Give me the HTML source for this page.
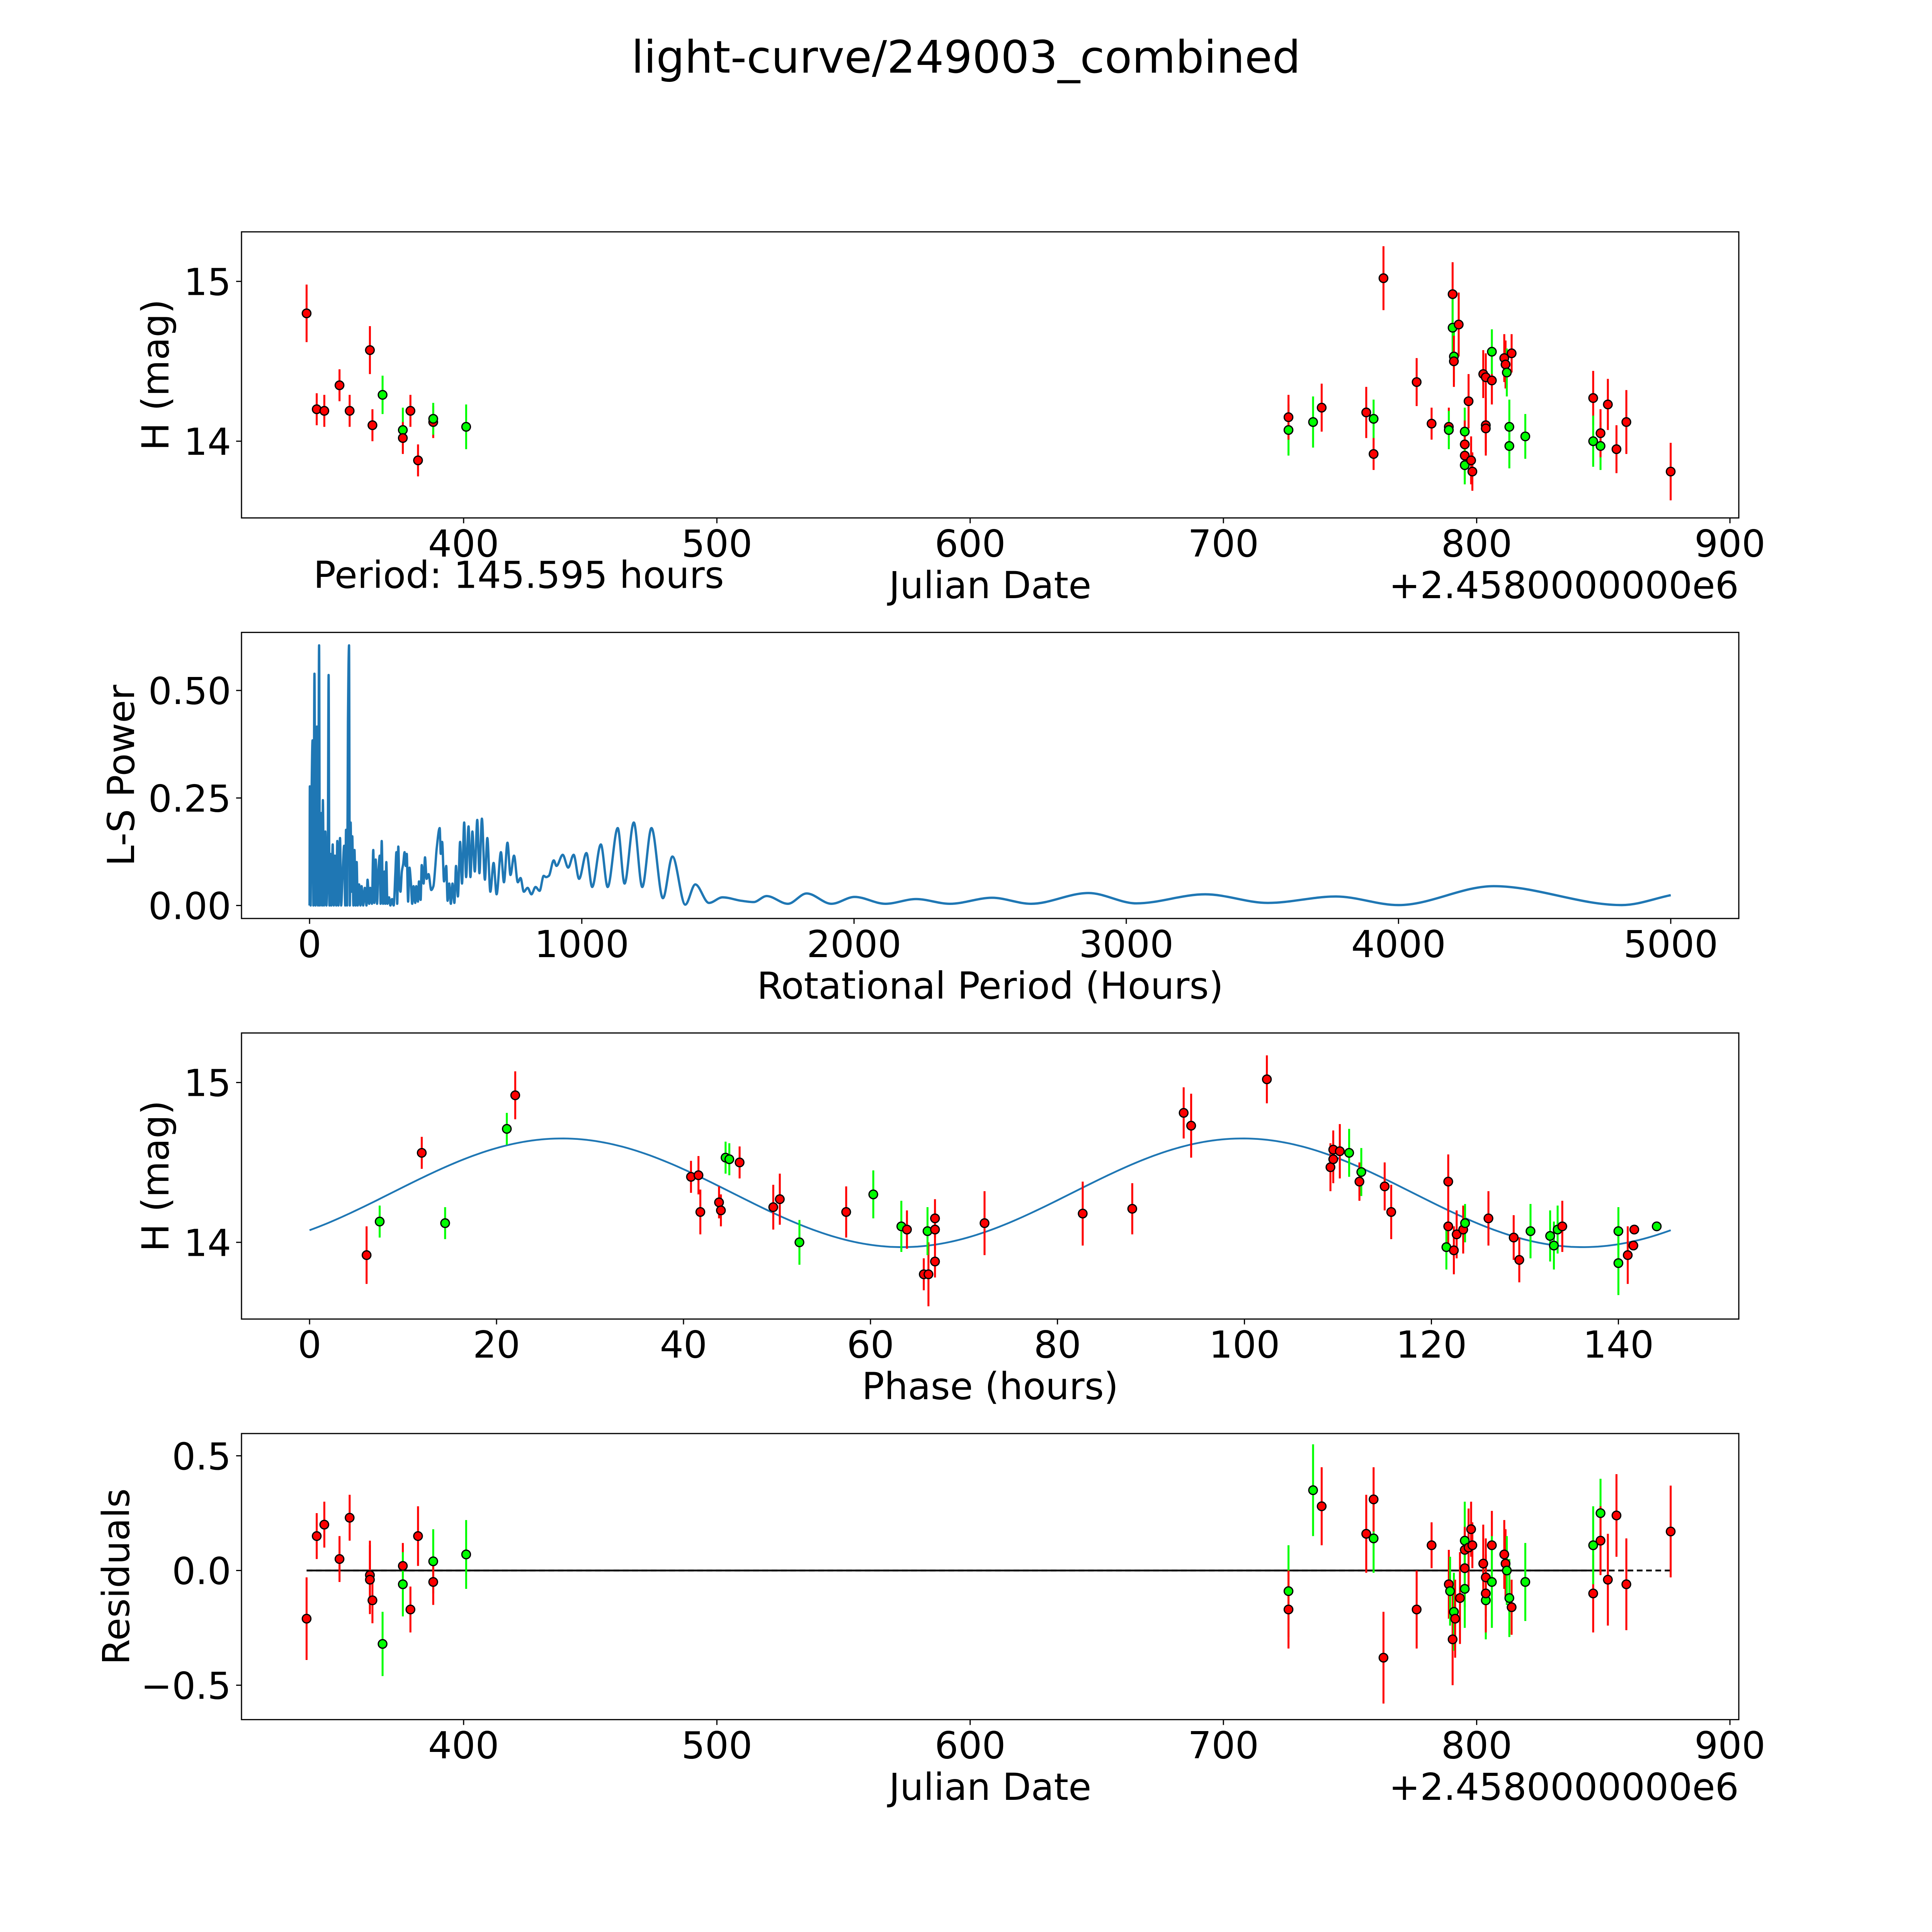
<!DOCTYPE html>
<html><head><meta charset="utf-8"><style>
html,body{margin:0;padding:0;background:#fff;overflow:hidden;width:100%;height:100%;}
svg{display:block;position:absolute;left:0;top:0;width:100vw;height:100vh;font-family:"DejaVu Sans","Liberation Sans",sans-serif;}
</style></head><body>
<svg id="fig" xmlns="http://www.w3.org/2000/svg" viewBox="0 0 5400 5400" preserveAspectRatio="none">
<rect x="0" y="0" width="5400" height="5400" fill="#fff"/>
<text x="2700" y="203" font-size="125" text-anchor="middle">light-curve/249003_combined</text>
</svg>
<script>
// ---------- data: light curve ----------
const lcDate=[338,342,345,351,355,363,364,368,376,376,379,382,388,388,401,
725.7,725.7,735.4,738.8,756.4,759.3,759.3,763.2,776.3,782.2,789.0,789.0,790.5,790.5,791.0,791.0,792.9,795.3,795.3,795.3,795.3,796.8,797.8,798.3,802.6,803.6,803.6,803.6,806.0,806.0,810.9,811.4,811.9,813.8,812.9,812.9,819.2,846.0,846.0,848.9,848.9,851.8,855.2,859.1,876.6];
const lcMag=[14.80,14.20,14.19,14.35,14.19,14.57,14.10,14.29,14.07,14.02,14.19,13.88,14.12,14.14,14.09,
14.07,14.15,14.12,14.21,14.18,14.14,13.92,15.02,14.37,14.11,14.09,14.07,14.92,14.71,14.53,14.50,14.73,14.06,13.98,13.91,13.85,14.25,13.88,13.81,14.42,14.40,14.10,14.08,14.38,14.56,14.52,14.48,14.43,14.55,14.09,13.97,14.03,14.27,14.00,13.97,14.05,14.23,13.95,14.12,13.81];
const lcErr=[0.18,0.1,0.1,0.1,0.1,0.15,0.1,0.12,0.14,0.1,0.1,0.1,0.1,0.1,0.14,
0.16,0.14,0.16,0.15,0.16,0.12,0.1,0.2,0.15,0.1,0.12,0.12,0.2,0.2,0.16,0.16,0.2,0.15,0.15,0.15,0.12,0.17,0.15,0.12,0.15,0.15,0.17,0.17,0.15,0.14,0.15,0.15,0.15,0.12,0.17,0.14,0.14,0.17,0.16,0.15,0.15,0.16,0.15,0.2,0.18];
const lcColor=['r','r','r','r','r','r','r','g','g','r','r','r','r','g','g',
'g','r','g','r','r','g','r','r','r','r','r','g','r','g','g','r','r','g','r','r','g','r','r','r','r','r','r','r','r','g','r','r','g','r','g','g','g','r','g','g','r','r','r','r','r'];
// ---------- data: periodogram ----------
const lsPeriod=[0,1,4,7,11,14,18,22,27,31,35,38,42,46,49,53,58,62,67,70,73,77,80,85,89,93,98,102,106,112,116,122,127,131,134,138,141,145,148,151,154,157,161,165,169,173,177,182,187,191,197,203,209,213,219,223,229,234,238,243,248,253,258,261,265,270,275,278,282,286,292,297,303,309,315,319,322,326,330,334,339,344,349,353,357,362,367,372,377,382,388,392,398,402,408,412,419,424,430,437,447,455,
462,467,478,482,487,494,502,507,513,519,525,532,538,545,553,560,568,575,584,591,598,607,616,624,633,644,653,664,676,687,703,714,727,738,751,765,775,787,801,815,830,845,860,869,879,897,907,930,950,970,990,1017,1038,1070,1095,1132,1157,1191,1222,1256,1298,1333,1380,1417,1467,1517,1586,1631,1679,1757,1826,1917,2002,2115,2228,2352,2507,2650,2861,3037,3290,3520,3770,4000,4350,4820,5000];
const lsPower=[0,0.277,0,0.238,0.384,0,0.539,0,0.416,0,0.605,0,0.215,0,0.245,0,0.172,0,0.137,0.536,0,0.120,0,0.142,0,0.116,0,0.150,0,0.157,0,0.084,0.139,0,0.176,0,0.427,0.605,0,0.193,0.032,0.161,0,0.129,0,0.101,0,0.049,0,0.045,0,0.041,0,0.060,0.004,0.041,0.004,0.129,0.006,0.107,0.004,0.082,0.116,0.004,0.150,0.004,0.079,0.004,0.101,0.004,0.019,0,0.015,0,0.073,0.124,0.004,0.137,0.045,0.032,0.079,0.097,0.124,0.092,0.120,0.009,0.088,0.056,0.004,0.045,0.006,0.045,0.009,0.056,0.013,0.094,0.051,0.112,0.062,0.073,0.036,0.045,
0.092,0.133,0.180,0.120,0.148,0.056,0.092,0.011,0.051,0.004,0.051,0.006,0.092,0.021,0.148,0.051,0.193,0.066,0.184,0.066,0.172,0.079,0.199,0.075,0.202,0.060,0.157,0.032,0.099,0.026,0.124,0.054,0.146,0.071,0.116,0.054,0.064,0.032,0.041,0.026,0.043,0.034,0.069,0.066,0.069,0.105,0.092,0.118,0.088,0.118,0.062,0.122,0.043,0.142,0.043,0.180,0.051,0.193,0.043,0.180,0.017,0.114,0.002,0.049,0.006,0.019,0.011,0.008,0.022,0.004,0.028,0.004,0.020,0.004,0.015,0.004,0.018,0.004,0.029,0.005,0.026,0.006,0.021,0.001,0.045,0.001,0.024];
// ---------- data: phased ----------
const phHour=[6.1,7.5,12,14.5,21.1,22,40.8,41.6,41.8,43.8,44,44.5,44.9,46,49.6,50.3,52.4,57.4,60.3,63.3,63.9,65.7,66.2,66.1,66.9,66.9,66.9,72.2,82.7,88,93.5,94.3,102.4,109.2,109.5,109.5,110.2,111.2,112.3,112.5,115,115.7,121.8,121.8,121.6,122.4,122.7,123.4,123.6,126.1,128.8,129.4,130.6,132.7,133.1,133.5,134,140,140,141,141.6,141.7,144.1];
const phMag=[13.92,14.13,14.56,14.12,14.71,14.92,14.41,14.42,14.19,14.25,14.2,14.53,14.52,14.5,14.22,14.27,14.0,14.19,14.3,14.1,14.08,13.8,13.8,14.07,13.88,14.08,14.15,14.12,14.18,14.21,14.81,14.73,15.02,14.47,14.52,14.58,14.57,14.56,14.38,14.44,14.35,14.19,14.38,14.1,13.97,13.95,14.05,14.08,14.12,14.15,14.03,13.89,14.07,14.04,13.98,14.08,14.1,14.07,13.87,13.92,13.98,14.08,14.1];
const phColor=['r','g','r','g','g','r','r','r','r','r','r','g','g','r','r','r','g','r','g','g','r','r','r','g','r','r','r','r','r','r','r','r','r','r','r','r','r','g','r','g','r','r','r','r','g','r','r','r','g','r','r','r','g','g','g','g','r','g','g','r','r','r','g'];
const fitMean=[14.31], fitAmp=[0.34], fitHalfPeriod=[72.8], fitT0=[8.8], fitSpan=[0,145.6];
// ---------- data: residuals ----------
const resDate=[338,342,345,351,355,363,363,364,368,376,376,379,382,388,388,401,
725.7,725.7,735.4,738.8,756.4,759.3,759.3,763.2,776.3,782.2,789.0,789.5,790.5,791.0,791.5,793.4,795.3,795.3,795.3,795.3,796.8,797.8,798.3,802.6,803.6,803.6,803.6,806.0,806.0,810.9,811.4,811.9,813.8,812.9,819.2,846.0,846.0,848.9,848.9,851.8,855.2,859.1,876.6];
const resVal=[-0.21,0.15,0.20,0.05,0.23,-0.02,-0.04,-0.13,-0.32,0.02,-0.06,-0.17,0.15,0.04,-0.05,0.07,
-0.09,-0.17,0.35,0.28,0.16,0.14,0.31,-0.38,-0.17,0.11,-0.06,-0.09,-0.30,-0.18,-0.21,-0.12,0.13,0.09,0.01,-0.08,0.10,0.18,0.11,0.03,-0.03,-0.13,-0.10,0.11,-0.05,0.07,0.03,0.00,-0.16,-0.12,-0.05,-0.10,0.11,0.25,0.13,-0.04,0.24,-0.06,0.17];
const resColor=['r','r','r','r','r','r','r','r','g','r','g','r','r','g','r','g',
'g','r','g','r','r','g','r','r','r','r','r','g','r','g','r','r','g','r','r','g','r','r','r','r','r','g','r','r','g','r','r','g','r','g','g','r','g','g','r','r','r','r','r'];
const resErr=[0.18,0.1,0.1,0.1,0.1,0.15,0.15,0.1,0.14,0.1,0.14,0.1,0.13,0.14,0.1,0.15,
0.2,0.17,0.2,0.17,0.17,0.15,0.14,0.2,0.17,0.1,0.15,0.15,0.2,0.17,0.17,0.2,0.17,0.1,0.17,0.17,0.17,0.12,0.1,0.17,0.17,0.17,0.17,0.15,0.2,0.15,0.15,0.15,0.12,0.17,0.17,0.17,0.17,0.15,0.15,0.2,0.18,0.2,0.2];
// ---------- tick labels ----------
const jdTicks=[400,500,600,700,800,900];
const magTicks=[14,15];
const lsXTicks=[0,1000,2000,3000,4000,5000];
const lsYTicks=[0,0.25,0.5];
const lsYLabels=['0.00','0.25','0.50'];
const phTicks=[0,20,40,60,80,100,120,140];
const resTicks=[-0.5,0,0.5];
const resLabels=['\u22120.5','0.0','0.5'];

const NS='http://www.w3.org/2000/svg';
const svg=document.getElementById('fig');
const L=675,R=4860,H=799.6,STEP=1119.6,T0=648;
const COL={r:'#ff0000',g:'#00ff00'};
function mk(tag,attrs,parent){const e=document.createElementNS(NS,tag);for(const k in attrs)e.setAttribute(k,attrs[k]);(parent||svg).appendChild(e);return e;}
function scale(d0,d1,p0,p1){return v=>p0+(v-d0)/(d1-d0)*(p1-p0);}

function makeAxes(row,name,xlim,ylim){
  const top=T0+row*STEP,bot=top+H;
  const g=mk('g',{});
  
  
  return {g,top,bot,x:scale(xlim[0],xlim[1],L,R),y:scale(ylim[0],ylim[1],bot,top)};
}
function frame(ax){
  const r=mk('rect',{x:L,y:ax.top,width:R-L,height:H,fill:'none',stroke:'#000','stroke-width':3.3},ax.g);
  
  
}
function xticks(ax,vals,labels){
  vals.forEach((v,i)=>{const px=ax.x(v);
    const t=mk('line',{x1:px,x2:px,y1:ax.bot,y2:ax.bot+15,stroke:'#000','stroke-width':3.3},ax.g);
    
    
    const tx=mk('text',{x:px,y:ax.bot+108,'font-size':104,'text-anchor':'middle'},ax.g);
    tx.textContent=labels?labels[i]:String(v);
    
    
  });
}
function yticks(ax,vals,labels){
  vals.forEach((v,i)=>{const py=ax.y(v);
    const t=mk('line',{x1:L-15,x2:L,y1:py,y2:py,stroke:'#000','stroke-width':3.3},ax.g);
    
    
    const tx=mk('text',{x:L-29,y:py+38,'font-size':104,'text-anchor':'end'},ax.g);
    tx.textContent=labels?labels[i]:String(v);
    
    
  });
}
function xlabel(ax,txt){
  const t=mk('text',{x:(L+R)/2,y:ax.bot+224,'font-size':104,'text-anchor':'middle'},ax.g);
  t.textContent=txt;
  
  
}
function ylabel(ax,txt,cx){
  const cy=(ax.top+ax.bot)/2;
  const t=mk('text',{x:cx,y:cy,'font-size':104,'text-anchor':'middle',transform:'rotate(-90 '+cx+' '+cy+')'},ax.g);
  t.textContent=txt;
  
  
}
function offset(ax){
  const t=mk('text',{x:R,y:ax.bot+224,'font-size':104,'text-anchor':'end'},ax.g);
  t.textContent='+2.4580000000e6';
  
  
}
function errPoints(ax,xs,ys,errs,cols){
  const g=mk('g',{},ax.g);
  
  
  xs.forEach((xv,i)=>{const px=ax.x(xv);
    if(errs){const l=mk('line',{x1:px,x2:px,y1:ax.y(ys[i]-errs[i]),y2:ax.y(ys[i]+errs[i]),stroke:COL[cols[i]],'stroke-width':5.5},g);
      
      }
  });
  xs.forEach((xv,i)=>{const px=ax.x(xv),py=ax.y(ys[i]);
    const c=mk('circle',{cx:px,cy:py,r:12,fill:COL[cols[i]],stroke:'#000','stroke-width':3.5},g);
    
    
  });
}
function monotonePath(P){
  const n=P.length;if(n<2)return '';
  const d=[],m=new Array(n);
  for(let i=0;i<n-1;i++){const dx=P[i+1][0]-P[i][0];d.push(dx===0?0:(P[i+1][1]-P[i][1])/dx);}
  m[0]=d[0];m[n-1]=d[n-2];
  for(let i=1;i<n-1;i++){m[i]=(d[i-1]*d[i]<=0)?0:2/(1/d[i-1]+1/d[i]);}
  let s='M'+P[0][0].toFixed(1)+','+P[0][1].toFixed(1);
  for(let i=0;i<n-1;i++){const h=(P[i+1][0]-P[i][0])/3;
    s+=' C'+(P[i][0]+h).toFixed(1)+','+(P[i][1]+m[i]*h).toFixed(1)+' '+(P[i+1][0]-h).toFixed(1)+','+(P[i+1][1]-m[i+1]*h).toFixed(1)+' '+P[i+1][0].toFixed(1)+','+P[i+1][1].toFixed(1);}
  return s;
}

// Panel 1: light curve
const a1=makeAxes(0,'light-curve-panel',[312.3,903.5],[13.52,15.31]);
errPoints(a1,lcDate,lcMag,lcErr,lcColor);
frame(a1);xticks(a1,jdTicks);yticks(a1,magTicks);xlabel(a1,'Julian Date');ylabel(a1,'H (mag)',471);offset(a1);
const per=mk('text',{x:876,y:1643,'font-size':104},a1.g);
per.textContent='Period: 145.595 hours';



// Panel 2: periodogram
const a2=makeAxes(1,'periodogram-panel',[-250,5250],[-0.0302,0.635]);
const lsPts=lsPeriod.map((p,i)=>[a2.x(p),a2.y(lsPower[i])]);
const lsLine=mk('path',{d:monotonePath(lsPts),fill:'none',stroke:'#1f77b4','stroke-width':6.5,'stroke-linejoin':'round'},a2.g);


frame(a2);xticks(a2,lsXTicks);yticks(a2,lsYTicks,lsYLabels);xlabel(a2,'Rotational Period (Hours)');ylabel(a2,'L-S Power',375);

// Panel 3: phased
const a3=makeAxes(2,'phased-curve-panel',[-7.28,152.88],[13.52,15.31]);
const fitPts=[];
for(let k=0;k<=300;k++){const t=fitSpan[0]+(fitSpan[1]-fitSpan[0])*k/300;
  const v=fitMean[0]+fitAmp[0]*Math.sin(2*Math.PI*(t-fitT0[0])/fitHalfPeriod[0]);
  fitPts.push(a3.x(t).toFixed(1)+','+a3.y(v).toFixed(1));}
const fit=mk('polyline',{points:fitPts.join(' '),fill:'none',stroke:'#1f77b4','stroke-width':5},a3.g);


errPoints(a3,phHour,phMag,lcErr.slice(0,phHour.length),phColor);
frame(a3);xticks(a3,phTicks);yticks(a3,magTicks);xlabel(a3,'Phase (hours)');ylabel(a3,'H (mag)',471);

// Panel 4: residuals
const a4=makeAxes(3,'residuals-panel',[312.3,903.5],[-0.65,0.597]);
const z1=mk('line',{x1:a4.x(338),x2:a4.x(851),y1:a4.y(0),y2:a4.y(0),stroke:'#000','stroke-width':5},a4.g);


const z2=mk('line',{x1:a4.x(338),x2:a4.x(876.6),y1:a4.y(0),y2:a4.y(0),stroke:'#000','stroke-width':5,'stroke-dasharray':'16,10'},a4.g);


errPoints(a4,resDate,resVal,resErr,resColor);
frame(a4);xticks(a4,jdTicks);yticks(a4,resTicks,resLabels);xlabel(a4,'Julian Date');ylabel(a4,'Residuals',361);offset(a4);
</script>
</body></html>
